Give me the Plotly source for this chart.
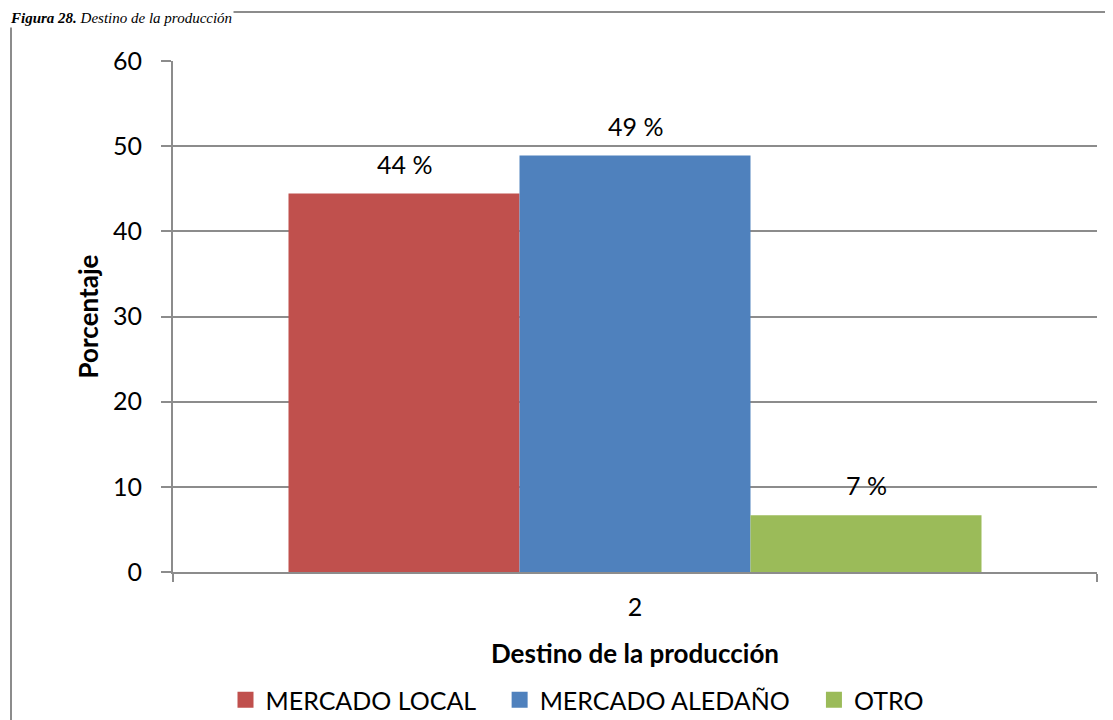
import plotly.graph_objs as go

categories = ['2']
series_names = ['MERCADO LOCAL', 'MERCADO ALEDAÑO', 'OTRO']
series_values = [44.44, 48.89, 6.67]
series_labels = ['44 %', '49 %', '7 %']
series_colors = ['#C0504D', '#4F81BD', '#9BBB59']

# la página tiene un margen de 8 px, así que el lienzo es algo menor que la ventana
OFF = 8
W, H = 1113 - OFF, 720 - OFF
L, R, T, B = 173 - OFF, 16, 61 - OFF, 148
pw, ph = W - L - R, H - T - B


def px_x(x):
    return (x - OFF - L) / pw


def px_y(y):
    return (H - B - (y - OFF)) / ph


font = 'Lato, Carlito, Calibri, sans-serif'
grid = '#8c8c8c'

data = []
for name, val, col in zip(series_names, series_values, series_colors):
    data.append(go.Bar(x=categories, y=[val], name=name, showlegend=False,
                       marker=dict(color=col, line=dict(width=0))))

# entradas de leyenda con cuadrados de 16 px (como en Excel)
pad = '\u00a0' * 3
for i, (name, col) in enumerate(zip(series_names, series_colors)):
    label = name + (pad if i < len(series_names) - 1 else '')
    data.append(go.Scatter(x=[None], y=[None], mode='markers', name=label,
                           marker=dict(symbol='square', size=16, color=col, line=dict(width=0))))

fig = go.Figure(data=data)

# etiquetas de datos encima de cada barra
for i, (val, lab) in enumerate(zip(series_values, series_labels)):
    fig.add_annotation(x=(i - 1) * 0.25, xref='x', y=val, yref='y', text=lab, showarrow=False,
                       yanchor='bottom', yshift=13, font=dict(size=25, color='#000', family=font))

# marco exterior del gráfico
fig.add_shape(type='rect', xref='paper', yref='paper', x0=px_x(11), x1=px_x(1130),
              y0=px_y(740), y1=px_y(12), line=dict(color=grid, width=2), layer='below')

# título de la figura
fig.add_annotation(xref='paper', yref='paper', x=px_x(OFF), y=px_y(OFF), xanchor='left', yanchor='top',
                   showarrow=False, bgcolor='white', borderpad=1,
                   text='<b><i>Figura 28.</i></b><i> Destino de la producción</i>',
                   font=dict(size=15, family='Liberation Serif, Times New Roman, serif', color='#000'))

fig.update_layout(
    width=W, height=H,
    margin=dict(l=L, r=R, t=T, b=B, autoexpand=False),
    paper_bgcolor='white', plot_bgcolor='white',
    barmode='group', bargap=0.25, bargroupgap=0,
    font=dict(family=font, size=25, color='#000'),
    showlegend=True,
    legend=dict(orientation='h', x=px_x(577), xanchor='center', y=px_y(700), yanchor='middle',
                font=dict(size=25, family=font), itemwidth=30, traceorder='normal',
                bgcolor='rgba(0,0,0,0)'),
    xaxis=dict(type='category', tickson='boundaries', ticks='outside', ticklen=8, tickcolor=grid,
               tickwidth=2, showline=True, linecolor=grid, linewidth=2, range=[-0.5, 0.5],
               tickfont=dict(size=25), ticklabelstandoff=12,
               title=dict(text='<b>Destino de la producción</b>', font=dict(size=26), standoff=25)),
    yaxis=dict(range=[0, 60], dtick=10, ticks='outside', ticklen=10, tickcolor=grid, tickwidth=2,
               showline=True, linecolor=grid, linewidth=2, showgrid=True, gridcolor=grid, gridwidth=2,
               zeroline=False, tickfont=dict(size=25), ticklabelstandoff=14,
               title=dict(text='<b>Porcentaje</b>', font=dict(size=26), standoff=7)),
)

fig.write_html('out.html')
